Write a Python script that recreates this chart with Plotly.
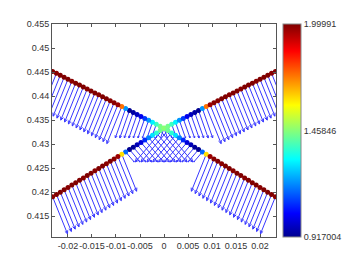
import math
import plotly.graph_objects as go

# distance from the crossing point along x (same for each of the 4 arms)
dist = [0.0000, 0.0008, 0.0016, 0.0024, 0.0032, 0.0040, 0.0048, 0.0056, 0.0064, 0.0072,
        0.0080, 0.0088, 0.0096, 0.0104, 0.0112, 0.0120, 0.0128, 0.0136, 0.0144, 0.0152,
        0.0160, 0.0168, 0.0176, 0.0184, 0.0192, 0.0200, 0.0208, 0.0216, 0.0224, 0.0232]
y_upper = [0.43330, 0.43371, 0.43412, 0.43452, 0.43493, 0.43534, 0.43575, 0.43616, 0.43656, 0.43697,
           0.43738, 0.43779, 0.43820, 0.43860, 0.43901, 0.43942, 0.43983, 0.44024, 0.44064, 0.44105,
           0.44146, 0.44187, 0.44228, 0.44268, 0.44309, 0.44350, 0.44391, 0.44432, 0.44472, 0.44513]
y_lower = [0.43330, 0.43281, 0.43231, 0.43182, 0.43133, 0.43083, 0.43034, 0.42985, 0.42935, 0.42886,
           0.42836, 0.42787, 0.42738, 0.42688, 0.42639, 0.42590, 0.42540, 0.42491, 0.42442, 0.42392,
           0.42343, 0.42293, 0.42244, 0.42195, 0.42145, 0.42096, 0.42047, 0.41997, 0.41948, 0.41899]
val_upper = [1.46, 1.44, 1.38, 1.30, 1.20, 1.10, 1.02, 0.97, 0.94, 0.92,
             1.20, 1.74, 1.97, 1.99, 1.99, 2.00, 2.00, 1.99, 2.00, 2.00,
             1.99, 2.00, 2.00, 2.00, 1.99, 2.00, 2.00, 2.00, 1.99, 2.00]
val_lower = [1.46, 1.43, 1.36, 1.28, 1.18, 1.08, 1.00, 0.96, 0.93, 0.92,
             1.15, 1.62, 1.97, 1.99, 2.00, 1.99, 2.00, 2.00, 1.99, 2.00,
             2.00, 1.99, 2.00, 2.00, 2.00, 1.99, 2.00, 2.00, 2.00, 1.99]
# vector components for the left-hand arms (right-hand arms mirror u)
u_upper_left = [-0.00071, -0.00086, -0.00101, -0.00114, -0.00129, -0.00143, -0.00158, -0.00172, -0.00186, -0.00201,
                -0.00214, -0.0031, -0.0031, -0.0031, -0.0031, -0.0031, -0.0031, -0.0031, -0.0031, -0.0031,
                -0.0031, -0.0031, -0.0031, -0.0031, -0.0031, -0.0031, -0.0031, -0.0031, -0.0031, -0.0031]
v_upper_left = [-0.00204, -0.00246, -0.00288, -0.00327, -0.00369, -0.00408, -0.00450, -0.00492, -0.00531, -0.00573,
                -0.00613, -0.0077, -0.0077, -0.0077, -0.0077, -0.0077, -0.0077, -0.0077, -0.0077, -0.0077,
                -0.0077, -0.0077, -0.0077, -0.0077, -0.0077, -0.0077, -0.0077, -0.0077, -0.0077, -0.0077]
u_lower_left = [0.00599, 0.00558, 0.00515, 0.00473, 0.00432, 0.00390, 0.00347, 0.00306, 0.00264, 0.00221,
                0.00179, 0.0031, 0.0031, 0.0031, 0.0031, 0.0031, 0.0031, 0.0031, 0.0031, 0.0031,
                0.0031, 0.0031, 0.0031, 0.0031, 0.0031, 0.0031, 0.0031, 0.0031, 0.0031, 0.0031]
v_lower_left = [-0.00704, -0.00656, -0.00606, -0.00556, -0.00508, -0.00458, -0.00408, -0.00360, -0.00310, -0.00260,
                -0.00210, -0.0077, -0.0077, -0.0077, -0.0077, -0.0077, -0.0077, -0.0077, -0.0077, -0.0077,
                -0.0077, -0.0077, -0.0077, -0.0077, -0.0077, -0.0077, -0.0077, -0.0077, -0.0077, -0.0077]

x_ticks = [-0.02, -0.015, -0.01, -0.005, 0, 0.005, 0.01, 0.015, 0.02]
x_ticktext = ["-0.02", "-0.015", "-0.01", "-0.005", "0", "0.005", "0.01", "0.015", "0.02"]
y_ticks = [0.415, 0.42, 0.425, 0.43, 0.435, 0.44, 0.445, 0.45, 0.455]
y_ticktext = ["0.415", "0.42", "0.425", "0.43", "0.435", "0.44", "0.445", "0.45", "0.455"]
c_min, c_mid, c_max = 0.917004, 1.45846, 1.99991
c_ticktext = ["0.917004", "1.45846", "1.99991"]

# assemble the four arms
X, Y, U, V, C = [], [], [], [], []
for sgn in (-1, 1):
    for i in range(len(dist)):
        X.append(sgn * dist[i]); Y.append(y_upper[i])
        U.append(-sgn * u_upper_left[i])
        V.append(v_upper_left[i]); C.append(val_upper[i])
        X.append(sgn * dist[i]); Y.append(y_lower[i])
        U.append(-sgn * u_lower_left[i])
        V.append(v_lower_left[i]); C.append(val_lower[i])

# quiver line segments with small arrowheads
ax, ay = [], []
ang = math.radians(25)
for x0, y0, u, v in zip(X, Y, U, V):
    x1, y1 = x0 + u, y0 + v
    L = math.hypot(u, v)
    hx, hy = -u / L, -v / L
    hl = 0.09 * L
    ax += [x0, x1, None]
    ay += [y0, y1, None]
    for a in (ang, -ang):
        rx = hx * math.cos(a) - hy * math.sin(a)
        ry = hx * math.sin(a) + hy * math.cos(a)
        ax += [x1 + rx * hl, x1, None]
        ay += [y1 + ry * hl, y1, None]

jet = [[0.0, "rgb(0,0,143)"], [0.111, "rgb(0,0,255)"], [0.365, "rgb(0,255,255)"],
       [0.619, "rgb(255,255,0)"], [0.873, "rgb(255,0,0)"], [1.0, "rgb(128,0,0)"]]

font = dict(family="Liberation Sans", size=9, color="#333333")

fig = go.Figure()
fig.add_trace(go.Scatter(x=ax, y=ay, mode="lines",
                         line=dict(color="rgb(55,55,255)", width=1),
                         hoverinfo="skip", showlegend=False))
fig.add_trace(go.Scatter(
    x=X, y=Y, mode="markers", showlegend=False,
    marker=dict(size=5, color=C, colorscale=jet, cmin=c_min, cmax=c_max,
                line=dict(width=0),
                colorbar=dict(x=1.03125, xanchor="left", xpad=0, ypad=0,
                              y=0.5, yanchor="middle", len=1, lenmode="fraction",
                              thickness=18, outlinewidth=1, outlinecolor="#888888",
                              tickvals=[c_min, c_mid, c_max], ticktext=c_ticktext,
                              ticks="", tickfont=font))))

axis_common = dict(showgrid=False, zeroline=False, showline=True, linecolor="#555555",
                   linewidth=1, mirror="ticks", ticks="inside", ticklen=3,
                   tickcolor="#555555", tickfont=font)
fig.update_xaxes(range=[-0.02333, 0.02333], tickvals=x_ticks, ticktext=x_ticktext,
                 tickangle=0, **axis_common)
fig.update_yaxes(range=[0.41063, 0.455], tickvals=y_ticks, ticktext=y_ticktext, **axis_common)
# page body has an 8px default margin, so the figure is shrunk by 8px and margins offset
fig.update_layout(width=350, height=262, margin=dict(l=44, r=82, t=16, b=33, autoexpand=False),
                  plot_bgcolor="white", paper_bgcolor="white")
fig.write_html("out.html")
